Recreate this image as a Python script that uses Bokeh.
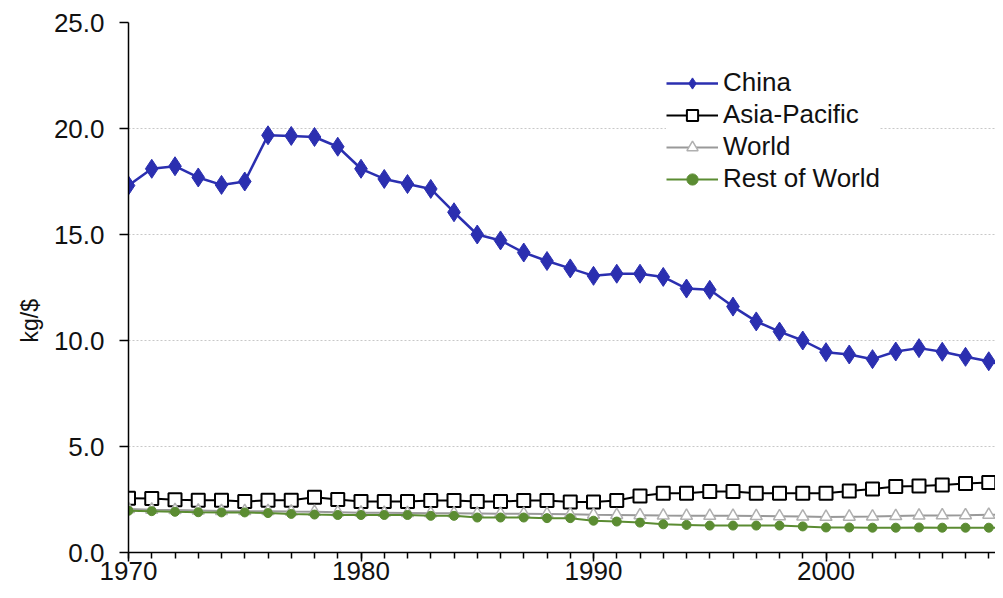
from bokeh.plotting import figure
from bokeh.models import Range1d, FixedTicker, NumeralTickFormatter, Legend, LegendItem, Title
from bokeh.embed import file_html
from bokeh.resources import INLINE

years = list(range(1970, 2009))
china = [17.31, 18.10, 18.22, 17.69, 17.34, 17.50, 19.68, 19.65, 19.60, 19.14,
         18.10, 17.62, 17.38, 17.15, 16.05, 15.00, 14.72, 14.15, 13.75, 13.40,
         13.05, 13.15, 13.15, 13.00, 12.45, 12.39, 11.60, 10.90, 10.42, 10.00,
         9.45, 9.34, 9.12, 9.48, 9.64, 9.47, 9.23, 9.02, 8.73]
asia_pacific = [2.56, 2.55, 2.49, 2.47, 2.46, 2.41, 2.46, 2.46, 2.61, 2.50,
                2.41, 2.41, 2.41, 2.45, 2.45, 2.41, 2.41, 2.45, 2.45, 2.38,
                2.38, 2.45, 2.67, 2.80, 2.80, 2.88, 2.88, 2.80, 2.80, 2.80,
                2.80, 2.90, 2.99, 3.11, 3.14, 3.18, 3.25, 3.30, 3.35]
world = [2.05, 2.02, 2.00, 1.98, 1.96, 1.95, 1.95, 1.93, 1.92, 1.90,
         1.88, 1.87, 1.86, 1.85, 1.85, 1.84, 1.83, 1.83, 1.82, 1.80,
         1.78, 1.77, 1.76, 1.74, 1.73, 1.73, 1.73, 1.72, 1.71, 1.70,
         1.68, 1.69, 1.70, 1.72, 1.74, 1.75, 1.76, 1.78, 1.78]
rest_of_world = [1.97, 1.95, 1.92, 1.90, 1.89, 1.89, 1.86, 1.82, 1.79, 1.77,
                 1.77, 1.77, 1.77, 1.73, 1.73, 1.65, 1.65, 1.65, 1.62, 1.62,
                 1.50, 1.46, 1.41, 1.33, 1.30, 1.27, 1.27, 1.27, 1.27, 1.23,
                 1.18, 1.18, 1.17, 1.17, 1.18, 1.17, 1.17, 1.17, 1.17]
y_ticks = [0, 5, 10, 15, 20, 25]
x_ticks = [1970, 1980, 1990, 2000]
y_label = "kg/$"

FONT = "Liberation Sans"

p = figure(width=995, height=590, output_backend="svg", toolbar_location=None,
           x_range=Range1d(1970, 2007.29), y_range=Range1d(0, 25),
           min_border_left=128, min_border_right=0, min_border_top=22, min_border_bottom=38)
p.outline_line_color = None
p.background_fill_color = "white"
p.border_fill_color = "white"

# grid
p.xgrid.grid_line_color = None
p.ygrid.ticker = FixedTicker(ticks=y_ticks)
p.ygrid.grid_line_color = "#c8c8c8"
p.ygrid.grid_line_dash = "2 2"
p.ygrid.grid_line_width = 1

# axes
p.yaxis.ticker = FixedTicker(ticks=y_ticks)
p.yaxis.formatter = NumeralTickFormatter(format="0.0")
p.xaxis.ticker = FixedTicker(ticks=x_ticks, minor_ticks=years)
for ax in (p.xaxis[0], p.yaxis[0]):
    ax.axis_line_color = "black"
    ax.axis_line_width = 1.5
    ax.major_tick_line_color = "black"
    ax.major_tick_line_width = 1.5
    ax.major_tick_in = 0
    ax.major_tick_out = 9
    ax.major_label_text_font = FONT
    ax.major_label_text_font_size = "26px"
    ax.major_label_text_color = "#111111"
p.yaxis.minor_tick_line_color = None
p.yaxis.major_label_standoff = 15
p.xaxis.minor_tick_line_color = "black"
p.xaxis.minor_tick_line_width = 1.5
p.xaxis.minor_tick_in = 0
p.xaxis.minor_tick_out = 6
p.xaxis.major_label_standoff = 0

ttl = Title(text=y_label, align="left", offset=210, text_font=FONT,
            text_font_size="23px", text_color="#111111", text_font_style="normal",
            standoff=15)
p.add_layout(ttl, "left")

# series
c_line = p.line(years, china, line_color="#2B2FB0", line_width=2.5)
c_mark = p.scatter(years, china, marker="diamond", size=19, fill_color="#2B2FB0",
                   line_color="#2B2FB0")
a_line = p.line(years, asia_pacific, line_color="black", line_width=2)
a_mark = p.scatter(years, asia_pacific, marker="square", size=13, fill_color="white",
                   line_color="black", line_width=2)
w_line = p.line(years, world, line_color="#999999", line_width=2)
w_mark = p.scatter(years, world, marker="triangle", size=12, fill_color="white",
                   line_color="#b0b0b0", line_width=1.5)
r_line = p.line(years, rest_of_world, line_color="#5B8C32", line_width=2)
r_mark = p.scatter(years, rest_of_world, marker="circle", size=9, fill_color="#5B8C32",
                   line_color="#5B8C32")

legend = Legend(items=[
    LegendItem(label="China", renderers=[c_line, c_mark]),
    LegendItem(label="Asia-Pacific", renderers=[a_line, a_mark]),
    LegendItem(label="World", renderers=[w_line, w_mark]),
    LegendItem(label="Rest of World", renderers=[r_line, r_mark]),
], location=(538, 358))
legend.background_fill_color = "white"
legend.background_fill_alpha = 1
legend.border_line_color = None
legend.padding = 10
legend.margin = 0
legend.spacing = 1
legend.glyph_width = 52
legend.glyph_height = 28
legend.label_height = 28
legend.label_standoff = 5
legend.label_text_font = FONT
legend.label_text_font_size = "26px"
legend.label_text_color = "#111111"
p.add_layout(legend)

open("out.html", "w").write(file_html(p, INLINE))
